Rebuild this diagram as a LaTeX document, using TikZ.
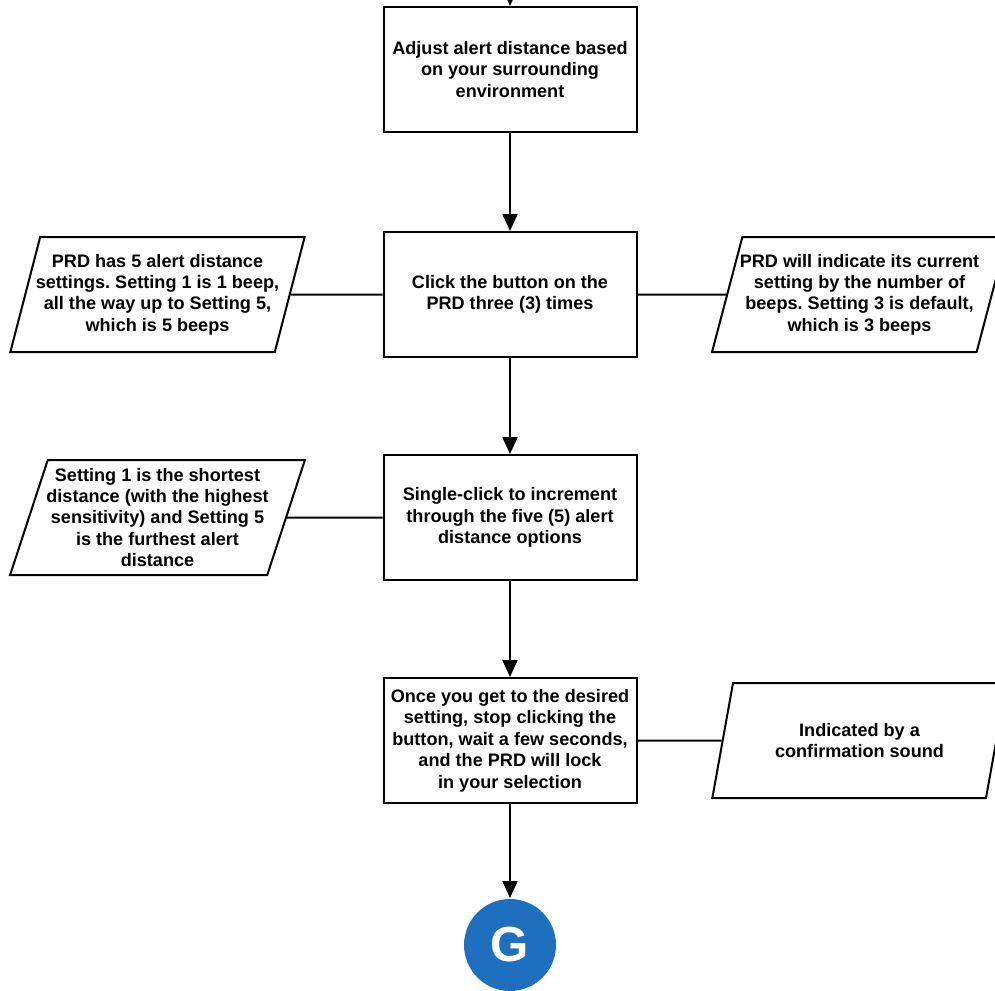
\documentclass[tikz,border=0pt]{standalone}
\usepackage{fontspec}
\setmainfont{Liberation Sans}
\usetikzlibrary{arrows.meta,shapes.geometric}
\definecolor{gblue}{RGB}{30,112,190}
\frenchspacing
\begin{document}
\begin{tikzpicture}
        \tikzstyle{every node}=[draw=black, line width=0.04cm, align=center, font=\bfseries\fontsize{10.3}{12.2}\selectfont, text=black]
        \tikzstyle{stepbox}=[rectangle, minimum width=5.06cm, minimum height=2.5cm, inner sep=1pt]
        \tikzstyle{note}=[trapezium, trapezium left angle=70.8, trapezium right angle=109.2, trapezium stretches=true, minimum width=5.9cm, minimum height=2.3cm, inner ysep=0pt, inner xsep=-6pt]
        \tikzstyle{edge}=[black, line width=0.04cm]
        \tikzstyle{flow}=[edge, -{Triangle[length=0.34cm, width=0.3cm]}]

        \useasboundingbox (0,0) rectangle (19.9,-19.8);

        \coordinate (in) at (10.2,0.6);
        \node[stepbox] (adjust) at (10.2,-1.39)  {Adjust alert distance based\\on your surrounding\\environment};
        \node[stepbox] (click)  at (10.2,-5.89)  {Click the button on the\\PRD three (3) times};
        \node[stepbox] (single) at (10.2,-10.35) {Single-click to increment\\through the five (5) alert\\distance options};
        \node[stepbox] (lock)   at (10.2,-14.81) {Once you get to the desired\\setting, stop clicking the\\button, wait a few seconds,\\and the PRD will lock\\in your selection};
        \node[circle, draw=none, fill=gblue, minimum size=1.84cm, text=white, font=\bfseries\fontsize{28}{30}\selectfont] (goal) at (10.2,-18.9) {G};

        \node[note] (levels)  at (3.15,-5.89)   {PRD has 5 alert distance\\settings. Setting 1 is 1 beep,\\all the way up to Setting 5,\\which is 5 beeps};
        \node[note] (current) at (17.19,-5.89)  {PRD will indicate its current\\setting by the number of\\beeps. Setting 3 is default,\\which is 3 beeps};
        \node[note] (range)   at (3.15,-10.35)  {Setting 1 is the shortest\\distance (with the highest\\sensitivity) and Setting 5\\is the furthest alert\\distance};
        \node[note] (confirm) at (17.19,-14.81) {Indicated by a\\confirmation sound};

        \draw[flow] (in) -- (adjust);
        \draw[flow] (adjust) -- (click);
        \draw[flow] (click) -- (single);
        \draw[flow] (single) -- (lock);
        \draw[flow] (lock) -- (goal);

        \draw[edge] (levels.east) -- (click.west);
        \draw[edge] (click.east) -- (current.west);
        \draw[edge] (range.east) -- (single.west);
        \draw[edge] (lock.east) -- (confirm.west);
    \end{tikzpicture}
\end{document}
